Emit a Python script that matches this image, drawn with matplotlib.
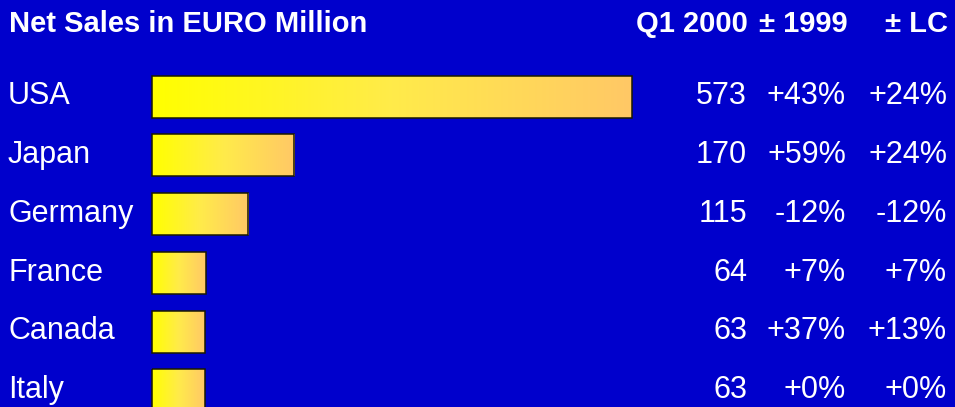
import numpy as np
import matplotlib
matplotlib.use("Agg")
import matplotlib.pyplot as plt
from matplotlib.colors import LinearSegmentedColormap

# ---- data ----
countries = ["USA", "Japan", "Germany", "France", "Canada", "Italy"]
sales = [573, 170, 115, 64, 63, 63]
chg_1999 = ["+43%", "+59%", "-12%", "+7%", "+37%", "+0%"]
chg_lc = ["+24%", "+24%", "-12%", "+7%", "+13%", "+0%"]
title = "Net Sales in EURO Million"
col_headers = ["Q1 2000", "\u00b1 1999", "\u00b1 LC"]

# ---- layout ----
W, H = 955, 407
BG = "#0000CC"
plt.rcParams["font.family"] = ["Liberation Sans", "DejaVu Sans"]

fig = plt.figure(figsize=(W / 100, H / 100), dpi=100, facecolor=BG)
ax = fig.add_axes([0, 0, 1, 1])
ax.set_facecolor(BG)
ax.axis("off")

x0_px = 152.0
scale = 480.0 / 573.0           # px per unit
row0_px, step_px = 96.7, 58.75

def px_y(p):
    return (p - row0_px) / step_px

bar_h = 42.0 / step_px
cmap = LinearSegmentedColormap.from_list("g", ["#FFFF00", "#FFEB4A", "#FFC866"])
grad = np.linspace(0, 1, 256).reshape(1, -1)

ypos = np.arange(len(countries))
bars = ax.barh(ypos, sales, height=bar_h, left=0, color="none",
               edgecolor="#1a1a00", linewidth=1.1, zorder=3)
for b in bars:
    x, y, w, h = b.get_x(), b.get_y(), b.get_width(), b.get_height()
    im = ax.imshow(grad, cmap=cmap, aspect="auto", extent=(x, x + w, y + h, y),
                   zorder=2, interpolation="bilinear")
    im.set_clip_path(b)
ax.set_xlim(-x0_px / scale, (W - x0_px) / scale)
ax.set_ylim((H - row0_px) / step_px, -row0_px / step_px)

fs = 22
fs_b = 21
tx = ax.get_yaxis_transform()  # x in axes fraction, y in data
base_off = 7.7 / step_px

ax.text(9 / W, px_y(32.3), title, transform=tx, color="white", fontsize=fs_b,
        fontweight="bold", ha="left", va="baseline")
hdr_right = [748, 848, 948]
for hx, t in zip(hdr_right, col_headers):
    ax.text(hx / W, px_y(32.3), t, transform=tx, color="white", fontsize=fs_b,
            fontweight="bold", ha="right", va="baseline")

col_right = [747, 846, 947]
for i, c in enumerate(countries):
    yb = i + base_off
    ax.text(8 / W, yb, c, transform=tx, color="white", fontsize=fs,
            ha="left", va="baseline")
    for cx, t in zip(col_right, [str(sales[i]), chg_1999[i], chg_lc[i]]):
        ax.text(cx / W, yb, t, transform=tx, color="white", fontsize=fs,
                ha="right", va="baseline")

fig.savefig("out.png", dpi=100, facecolor=BG)
